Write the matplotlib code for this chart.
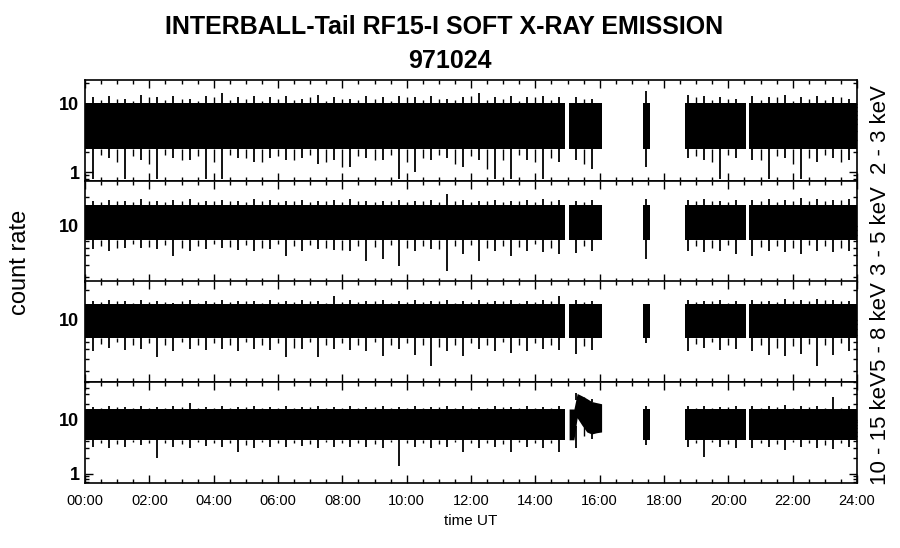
import numpy as np
import matplotlib.pyplot as plt
from matplotlib.ticker import FixedLocator, MultipleLocator, FuncFormatter, NullFormatter, LogLocator

plt.rcParams['font.family'] = ['Liberation Sans', 'DejaVu Sans']

# --- data (time in hours UT, count rate) ---

# intervals where the instrument has data
seg_start = [0.0, 15.05, 17.36, 18.65, 20.64]
seg_end = [14.92, 16.06, 17.56, 20.54, 24.0]

# half-hour bins inside the data intervals (largest spikes per bin)
bin_t = [0.25, 0.75, 1.25, 1.75, 2.25, 2.75, 3.25, 3.75, 4.25, 4.75,
         5.25, 5.75, 6.25, 6.75, 7.25, 7.75, 8.25, 8.75, 9.25, 9.75,
         10.25, 10.75, 11.25, 11.75, 12.25, 12.75, 13.25, 13.75, 14.25, 14.75,
         15.25, 15.75,
         17.45,
         18.75, 19.25, 19.75, 20.25,
         20.75, 21.25, 21.75, 22.25, 22.75, 23.25, 23.75]

# bin edges, where the smaller spikes at the band edge are read
edge_t = [0.5, 1.0, 1.5, 2.0, 2.5, 3.0, 3.5, 4.0, 4.5, 5.0,
          5.5, 6.0, 6.5, 7.0, 7.5, 8.0, 8.5, 9.0, 9.5, 10.0,
          10.5, 11.0, 11.5, 12.0, 12.5, 13.0, 13.5, 14.0, 14.5,
          15.5,
          19.0, 19.5, 20.0,
          21.0, 21.5, 22.0, 22.5, 23.0, 23.5]

bands = ['2 - 3 keV', '3 - 5 keV', '5 - 8 keV', '10 - 15 keV']

# solid part of the noise band
core_lo = [2.2, 7.2, 6.55, 4.3]
core_hi = [10.3, 16.4, 14.6, 16.0]

# highest / lowest spike in each bin
hi_2_3 = [12.5, 13.0, 12.0, 13.5, 12.5, 13.0, 12.0, 13.0, 14.5, 12.5,
          13.0, 12.5, 13.0, 12.0, 13.5, 12.5, 12.0, 13.0, 12.5, 13.0,
          12.5, 13.0, 12.0, 12.5, 14.5, 12.5, 13.0, 12.5, 13.0, 12.5,
          12.5, 12.0, 15.5, 13.5, 13.0, 12.5, 12.0,
          13.0, 12.5, 13.5, 12.5, 13.0, 12.5, 12.0]
lo_2_3 = [0.8, 1.6, 0.8, 1.5, 0.8, 1.6, 1.5, 0.8, 0.8, 1.6,
          1.4, 1.6, 1.5, 1.6, 1.3, 1.5, 1.2, 1.6, 1.5, 0.8,
          1.0, 1.5, 1.6, 1.2, 1.5, 0.8, 0.8, 1.5, 0.8, 1.4,
          1.5, 1.1, 1.2, 1.6, 1.5, 0.8, 1.6,
          1.5, 0.8, 1.6, 0.8, 1.4, 1.6, 1.5]

hi_3_5 = [18.0, 18.5, 18.0, 19.0, 18.0, 18.5, 19.0, 18.0, 18.5, 18.0,
          19.0, 18.5, 18.0, 18.5, 18.0, 18.5, 19.0, 18.0, 18.0, 18.5,
          18.0, 18.5, 21.0, 18.5, 18.0, 18.5, 18.0, 18.5, 19.0, 18.5,
          18.0, 18.5, 19.0, 18.5, 19.0, 18.0, 18.5,
          18.5, 19.0, 18.5, 19.5, 19.0, 18.5, 19.0]
lo_3_5 = [5.8, 5.5, 5.9, 6.0, 5.8, 4.9, 5.6, 5.8, 6.0, 5.7,
          5.5, 5.8, 4.9, 5.6, 5.8, 5.7, 5.5, 4.4, 4.6, 3.9,
          5.6, 5.8, 3.5, 5.2, 4.4, 5.5, 4.9, 5.6, 5.4, 5.2,
          5.3, 5.6, 4.6, 5.6, 5.4, 5.5, 5.2,
          4.9, 5.6, 5.4, 5.2, 5.6, 5.4, 5.5]

hi_5_8 = [15.5, 16.0, 15.5, 16.0, 15.5, 15.0, 16.0, 15.5, 16.0, 15.5,
          15.5, 16.0, 15.5, 16.0, 15.5, 17.5, 16.0, 15.5, 16.0, 15.5,
          16.0, 15.5, 16.0, 15.5, 16.0, 15.5, 16.0, 15.5, 16.0, 17.5,
          16.0, 15.5, 14.5, 16.0, 15.5, 16.0, 15.5,
          16.0, 15.5, 16.5, 16.0, 16.5, 16.0, 15.5]
lo_5_8 = [4.8, 5.2, 4.9, 5.0, 4.2, 4.8, 5.0, 4.9, 5.0, 4.8,
          5.1, 4.9, 4.2, 5.0, 4.2, 5.0, 4.9, 4.8, 4.3, 5.0,
          4.4, 3.4, 4.8, 4.3, 5.0, 4.8, 4.6, 4.8, 5.0, 4.9,
          4.5, 4.9, 5.8, 4.8, 5.2, 4.9, 5.0,
          4.8, 4.4, 4.3, 4.5, 3.4, 4.4, 4.8]

hi_10_15 = [17.5, 18.0, 17.5, 18.5, 17.5, 18.0, 20.9, 17.5, 18.0, 17.5,
            18.0, 17.5, 18.0, 17.5, 18.5, 17.5, 18.0, 17.5, 18.5, 17.5,
            18.0, 17.5, 18.0, 18.5, 17.5, 18.0, 17.5, 18.0, 17.5, 18.0,
            31.0, 24.0, 18.0, 18.5, 18.0, 17.5, 18.0,
            18.0, 18.5, 19.0, 18.0, 18.5, 26.5, 18.0]
lo_10_15 = [3.2, 3.0, 3.2, 3.4, 2.0, 3.2, 3.0, 3.3, 3.2, 2.6,
            3.0, 3.2, 3.1, 3.3, 3.0, 3.2, 3.1, 3.2, 3.0, 1.4,
            3.2, 3.0, 3.1, 2.5, 3.0, 3.2, 2.5, 3.1, 3.0, 2.5,
            3.0, 4.5, 3.5, 3.2, 2.1, 3.1, 3.0,
            3.0, 3.2, 2.8, 3.1, 3.0, 2.9, 3.1]

# smaller spikes at the bin edges
ehi_2_3 = [11.5, 12.0, 11.0, 12.5, 11.5, 12.0, 11.0, 12.5, 11.5, 12.0,
           11.0, 12.0, 11.5, 12.5, 11.0, 12.0, 11.5, 12.0, 11.0, 12.5,
           11.5, 12.0, 11.5, 13.0, 11.5, 12.0, 11.0, 12.5, 11.5,
           12.0, 12.5, 11.5, 12.0, 11.5, 12.5, 11.0, 12.0, 11.5, 12.5]
elo_2_3 = [1.8, 1.4, 1.7, 1.3, 1.8, 1.5, 1.7, 1.4, 1.8, 1.6,
           1.4, 1.7, 1.5, 1.8, 1.4, 1.2, 1.7, 1.5, 1.8, 1.4,
           1.6, 1.8, 1.3, 1.7, 1.1, 1.5, 1.8, 1.4, 1.6,
           1.3, 1.7, 1.4, 1.8, 1.5, 1.7, 1.3, 1.6, 1.8, 1.4]
ehi_3_5 = [17.5, 18.0, 17.5, 17.8, 17.5, 18.0, 17.5, 17.8, 18.0, 17.5,
           17.8, 17.5, 18.0, 17.5, 17.8, 17.5, 18.0, 17.5, 17.8, 17.5,
           18.0, 17.5, 17.8, 17.5, 18.0, 17.5, 17.8, 17.5, 18.0,
           17.5, 17.8, 18.0, 17.5, 18.0, 17.5, 18.2, 17.8, 18.0, 18.5]
elo_3_5 = [6.3, 6.0, 6.5, 6.1, 6.4, 6.0, 6.3, 6.6, 6.1, 6.4,
           6.0, 6.5, 6.2, 6.4, 6.0, 5.7, 6.3, 6.1, 6.4, 6.0,
           6.3, 5.8, 6.2, 6.4, 6.0, 6.3, 6.1, 6.5, 6.0,
           6.2, 6.3, 6.0, 6.4, 6.1, 6.3, 6.0, 6.4, 6.2, 6.0]
ehi_5_8 = [15.2, 15.5, 15.0, 15.4, 15.2, 15.6, 15.0, 15.4, 15.2, 15.5,
           15.0, 15.4, 15.2, 15.6, 15.0, 15.4, 15.2, 15.5, 15.0, 15.4,
           15.2, 15.6, 15.0, 15.4, 15.2, 15.5, 15.0, 15.4, 15.8,
           15.4, 15.2, 15.5, 15.0, 15.6, 15.4, 15.8, 15.5, 16.0, 15.6]
elo_5_8 = [5.7, 5.9, 5.5, 5.8, 5.6, 5.9, 5.5, 5.8, 5.6, 5.9,
           5.5, 5.8, 5.2, 5.9, 5.5, 5.8, 5.6, 5.9, 5.5, 5.8,
           5.6, 5.3, 5.5, 5.8, 5.6, 5.9, 5.5, 5.8, 5.6,
           5.4, 5.7, 5.9, 5.5, 5.6, 5.2, 5.4, 5.7, 5.5, 5.8]
ehi_10_15 = [16.8, 17.2, 16.6, 17.0, 16.8, 17.2, 16.6, 17.0, 16.8, 17.2,
             16.6, 17.0, 16.8, 17.2, 16.6, 17.0, 16.8, 17.2, 16.6, 17.0,
             16.8, 17.2, 16.6, 17.0, 16.8, 17.2, 16.6, 17.0, 16.8,
             23.0, 17.0, 16.8, 17.2, 16.8, 17.2, 17.0, 17.4, 17.0, 16.8]
elo_10_15 = [3.8, 3.6, 3.9, 3.7, 3.8, 3.6, 3.9, 3.7, 3.8, 3.5,
             3.9, 3.7, 3.8, 3.6, 3.9, 3.7, 3.8, 3.6, 3.9, 3.7,
             3.8, 3.6, 3.9, 3.7, 3.8, 3.6, 3.9, 3.7, 3.8,
             5.0, 3.7, 3.9, 3.6, 3.8, 3.6, 3.9, 3.7, 3.5, 3.8]

# enhancement in the 10-15 keV channel around 15:15
bump_t = [15.05, 15.2, 15.3, 15.45, 15.6, 15.75, 15.9, 16.06]
bump_lo = [4.3, 4.3, 11.0, 8.0, 6.0, 5.5, 5.8, 6.0]
bump_hi = [16.0, 16.0, 31.0, 28.0, 25.0, 22.0, 21.0, 20.0]

highs = [hi_2_3, hi_3_5, hi_5_8, hi_10_15]
lows = [lo_2_3, lo_3_5, lo_5_8, lo_10_15]
edge_highs = [ehi_2_3, ehi_3_5, ehi_5_8, ehi_10_15]
edge_lows = [elo_2_3, elo_3_5, elo_5_8, elo_10_15]

# --- layout ---
ylims = [(0.74, 22.5), (2.71, 28.8), (2.33, 24.7), (0.68, 50.6)]
panel_px = [(80, 181), (181, 281.5), (281.5, 382), (382, 483)]
label_px = [130, 231, 327, 428]
W, H = 900, 548

fig = plt.figure(figsize=(9, 5.48), dpi=100)


def band_base(t, lo, hi, with_bump):
    """Band limits at times t, following the bump where it exists."""
    t = np.asarray(t)
    base_lo = np.full(len(t), lo)
    base_hi = np.full(len(t), hi)
    if with_bump:
        inside = (t >= bump_t[0]) & (t <= bump_t[-1])
        base_lo[inside] = np.interp(t[inside], bump_t, bump_lo)
        base_hi[inside] = np.interp(t[inside], bump_t, bump_hi)
    return base_lo, base_hi


for i in range(4):
    top, bot = panel_px[i]
    ax = fig.add_axes([85 / W, 1 - bot / H, 772 / W, (bot - top) / H])
    with_bump = (i == 3)

    for s, e in zip(seg_start, seg_end):
        if with_bump and s == bump_t[0]:
            continue
        ax.fill_between([s, e], core_lo[i], core_hi[i], color='black', lw=0)
    if with_bump:
        ax.fill_between(bump_t, bump_lo, bump_hi, color='black', lw=0)

    blo, bhi = band_base(bin_t, core_lo[i], core_hi[i], with_bump)
    ax.vlines(bin_t, bhi, highs[i], color='black', lw=1.3)
    ax.vlines(bin_t, lows[i], blo, color='black', lw=1.3)
    blo, bhi = band_base(edge_t, core_lo[i], core_hi[i], with_bump)
    ax.vlines(edge_t, bhi, edge_highs[i], color='black', lw=1.0)
    ax.vlines(edge_t, edge_lows[i], blo, color='black', lw=1.0)

    ax.set_yscale('log')
    ax.set_ylim(*ylims[i])
    ax.set_xlim(0, 24)
    ax.yaxis.set_major_locator(FixedLocator([1, 10, 100]))
    ax.yaxis.set_minor_locator(LogLocator(base=10, subs=np.arange(2, 10)))
    ax.yaxis.set_major_formatter(FuncFormatter(lambda v, p: '%g' % v))
    ax.yaxis.set_minor_formatter(NullFormatter())
    ax.xaxis.set_major_locator(MultipleLocator(2))
    ax.xaxis.set_minor_locator(MultipleLocator(0.5))

    ax.tick_params(which='both', direction='in', top=True, right=True, width=1)
    ax.tick_params(which='major', length=6)
    ax.tick_params(which='minor', length=3)
    ax.tick_params(axis='y', labelsize=13, pad=4)
    for lab in ax.get_yticklabels():
        lab.set_fontweight('bold')
    for sp in ax.spines.values():
        sp.set_linewidth(1.2)

    if i < 3:
        ax.set_xticklabels([])
    else:
        ax.set_xticks(np.arange(0, 25, 2))
        ax.set_xticklabels(['%02d:00' % h for h in range(0, 25, 2)], fontsize=10.5)
        ax.tick_params(axis='x', pad=8)
        ax.set_xlabel('time UT', fontsize=11, labelpad=4)

    fig.text(0.978, 1 - label_px[i] / H, bands[i], rotation=90,
             ha='center', va='center', fontsize=16)

fig.text(0.493, 1 - 27 / H, 'INTERBALL-Tail RF15-I SOFT X-RAY EMISSION',
         ha='center', va='center', fontsize=18, fontweight='bold')
fig.text(0.5, 1 - 61 / H, '971024', ha='center', va='center', fontsize=18, fontweight='bold')
fig.text(0.022, 1 - 262 / H, 'count rate', rotation=90, ha='center', va='center', fontsize=17)

fig.savefig('out.png', dpi=100)
